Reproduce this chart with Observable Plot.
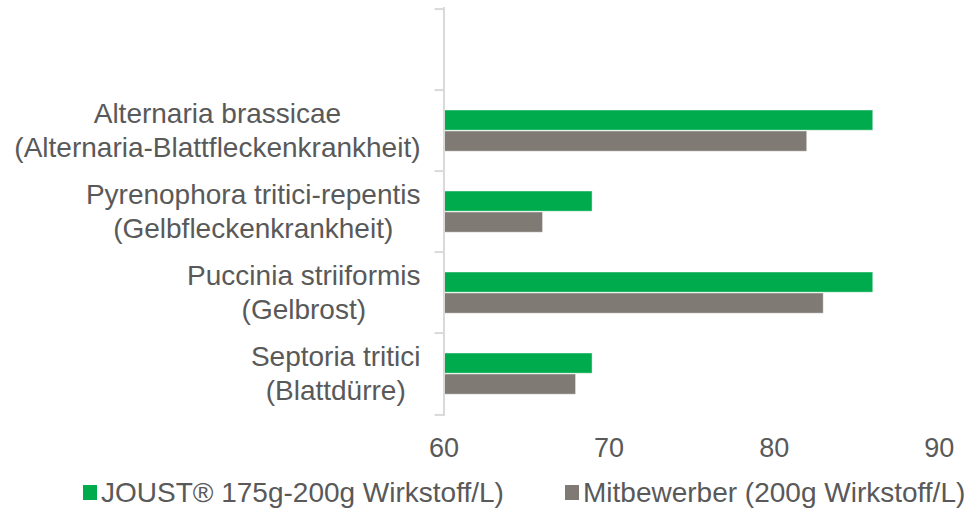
<!DOCTYPE html>
<html><head><meta charset="utf-8">
<script src="https://cdn.jsdelivr.net/npm/d3@7"></script>
<script src="https://cdn.jsdelivr.net/npm/@observablehq/plot@0.6"></script>
<style>
html,body{margin:0;padding:0;background:#fff;}
body{font-family:"Liberation Sans",Arial,sans-serif;width:968px;height:510px;overflow:hidden;}
#legend{position:relative;height:40px;color:#595959;font-size:28px;line-height:28px;}
#legend .sw{position:absolute;width:14px;height:15px;}
#legend .tx{position:absolute;white-space:nowrap;}
</style></head><body><div id="chart"></div><div id="legend"></div>
<script>
const categories = [
  "Alternaria brassicae\n(Alternaria-Blattfleckenkrankheit)",
  "Pyrenophora tritici-repentis\n(Gelbfleckenkrankheit)",
  "Puccinia striiformis\n(Gelbrost)",
  "Septoria tritici\n(Blattdürre)"
];
const seriesNames = ["JOUST® 175g-200g Wirkstoff/L)", "Mitbewerber (200g Wirkstoff/L)"];
const joustValues = [86, 69, 86, 69];
const competitorValues = [82, 66, 83, 68];
const xTicks = [60, 70, 80, 90];
const seriesColors = ["#00AB4E", "#7F7A74"];

const W = 968, H = 470;
const mL = 443.5, mR = 29.2, mT = 7, mB = 54;
const yDomain = ["", ...categories];
const band = (H - mT - mB) / yDomain.length;
const ppu = (W - mL - mR) / (xTicks[xTicks.length - 1] - xTicks[0]);
const textColor = "#595959";
const axisColor = "#D9D9D9";
const labelFont = "28px 'Liberation Sans'";

const rows = [];
categories.forEach((c, i) => {
  rows.push({cat: c, series: seriesNames[0], value: joustValues[i]});
  rows.push({cat: c, series: seriesNames[1], value: competitorValues[i]});
});

const ctx = document.createElement("canvas").getContext("2d");
ctx.font = labelFont;
const labelRight = 420;
const labelMarks = categories.map(c => {
  const w = Math.max(...c.split("\n").map(s => ctx.measureText(s).width));
  const center = labelRight - w / 2;
  return Plot.text([c], {
    y: d => d, text: d => d, frameAnchor: "left", textAnchor: "middle",
    dx: center - mL, dy: -2, lineAnchor: "middle", lineHeight: 1.22,
    fontSize: 28, fill: textColor
  });
});

const chart = Plot.plot({
  width: W, height: H,
  marginLeft: mL, marginRight: mR, marginTop: mT, marginBottom: mB,
  style: {fontFamily: "'Liberation Sans', Arial, sans-serif", fontSize: "27px", color: textColor, background: "#fff", overflow: "visible"},
  x: {domain: [xTicks[0], xTicks[xTicks.length - 1]], ticks: xTicks, tickSize: 0, tickPadding: 21, label: null, axis: "bottom"},
  y: {type: "band", domain: yDomain, padding: 0, axis: null},
  color: {domain: seriesNames, range: seriesColors},
  marks: [
    Plot.barX(rows.filter(d => d.series === seriesNames[0]), {
      y: "cat", x1: xTicks[0], x2: "value", fill: seriesColors[0],
      insetTop: 20, insetBottom: band - 41, stroke: "#fff", strokeOpacity: 0.45, strokeWidth: 1
    }),
    Plot.barX(rows.filter(d => d.series === seriesNames[1]), {
      y: "cat", x1: xTicks[0], x2: "value", fill: seriesColors[1],
      insetTop: 41, insetBottom: band - 62, stroke: "#fff", strokeOpacity: 0.45, strokeWidth: 1
    }),
    Plot.ruleX([xTicks[0]], {stroke: axisColor, strokeWidth: 2}),
    Plot.ruleY(yDomain, {y: d => d, dy: -band / 2, x1: xTicks[0] - 9 / ppu, x2: xTicks[0], stroke: axisColor, strokeWidth: 2}),
    Plot.ruleY([yDomain[yDomain.length - 1]], {y: d => d, dy: band / 2, x1: xTicks[0] - 9 / ppu, x2: xTicks[0], stroke: axisColor, strokeWidth: 2}),
    ...labelMarks
  ]
});
document.getElementById("chart").appendChild(chart);

const legend = document.getElementById("legend");
const legendPos = [{sw: 83, tx: 101}, {sw: 565, tx: 583}];
seriesNames.forEach((name, i) => {
  const sw = document.createElement("div");
  sw.className = "sw";
  sw.style.left = legendPos[i].sw + "px";
  sw.style.top = "15px";
  sw.style.background = seriesColors[i];
  legend.appendChild(sw);
  const tx = document.createElement("div");
  tx.className = "tx";
  tx.style.left = legendPos[i].tx + "px";
  tx.style.top = "9px";
  tx.textContent = name;
  legend.appendChild(tx);
});
</script>
</body></html>
